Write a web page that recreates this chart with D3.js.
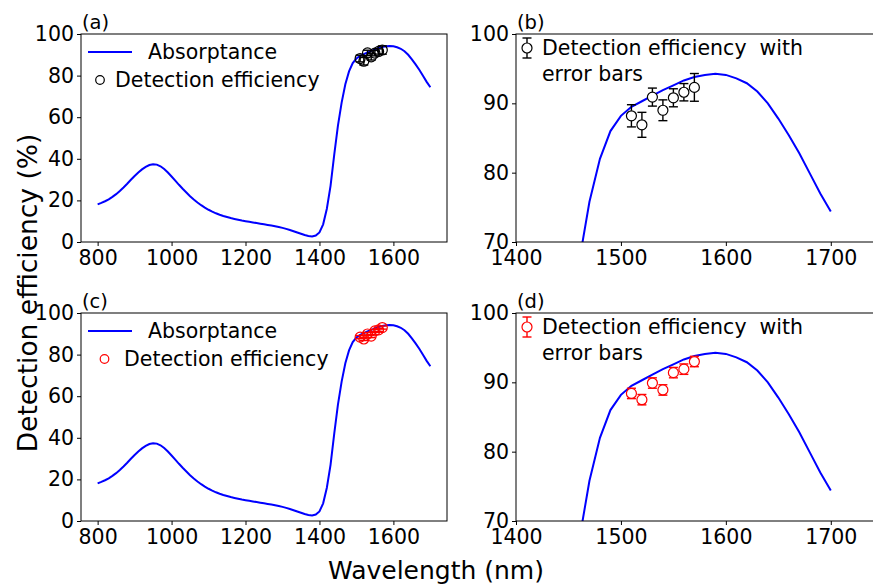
<!DOCTYPE html>
<html>
<head>
<meta charset="utf-8">
<script src="https://cdn.jsdelivr.net/npm/d3@7"></script>
<style>
  body { margin: 0; background: #fff; }
  text { font-family: "DejaVu Sans", sans-serif; fill: #000; }
</style>
</head>
<body>
<svg id="fig" width="873" height="585"></svg>
<script>
// absorptance, sampled every 10 nm from 800 to 1700
const wavelengths = d3.range(800, 1701, 10);
const absorptance = [
  18.1, 18.8, 19.6, 20.5, 21.7, 23.0, 24.5, 26.2, 28.0, 29.9,
  31.7, 33.4, 34.9, 36.1, 37.0, 37.4, 37.2, 36.4, 35.1, 33.4,
  31.5, 29.5, 27.5, 25.6, 23.8, 22.0, 20.4, 19.0, 17.7, 16.5,
  15.5, 14.6, 13.8, 13.1, 12.5, 12.0, 11.5, 11.1, 10.7, 10.3,
  10.0, 9.7, 9.4, 9.1, 8.8, 8.5, 8.2, 7.9, 7.6, 7.2,
  6.8, 6.3, 5.8, 5.2, 4.6, 4.0, 3.4, 2.9, 2.7, 3.1,
  4.6, 8.5, 16, 27, 42, 56, 67, 75.8, 82.0, 86.0,
  88.2, 89.5, 90.3, 91.1, 91.9, 92.6, 93.3, 93.8, 94.1, 94.25,
  94.1, 93.6, 92.9, 91.7, 90.0, 87.8, 85.4, 82.8, 79.9, 77.0,
  74.4
];

// measured detection efficiency
const deWavelengths = [1510, 1520, 1530, 1540, 1550, 1560, 1570];
const deTop = [88.2, 86.9, 90.9, 89.0, 90.8, 91.6, 92.3];
const deTopErr = [1.6, 1.8, 1.3, 1.5, 1.3, 1.25, 2.0];
const deBottom = [88.4, 87.5, 89.9, 88.9, 91.4, 91.9, 93.0];
const deBottomErr = [0.75, 0.75, 0.75, 0.75, 0.75, 0.75, 0.75];

const ticksWide = [800, 1000, 1200, 1400, 1600];
const ticksZoom = [1400, 1500, 1600, 1700];
const yTicksFull = [0, 20, 40, 60, 80, 100];
const yTicksZoom = [70, 80, 90, 100];

const svg = d3.select("#fig");
const curve = wavelengths.map((w, i) => [w, absorptance[i]]);
const fs = "20.5px";

function panel(opt) {
  const x = d3.scaleLinear().domain(opt.xDomain).range(opt.xRange);
  const y = d3.scaleLinear().domain(opt.yDomain).range(opt.yRange);
  const g = svg.append("g");
  const clipId = "clip-" + opt.label;

  g.append("clipPath").attr("id", clipId)
    .append("rect")
    .attr("x", opt.xRange[0]).attr("y", opt.yRange[1])
    .attr("width", opt.xRange[1] - opt.xRange[0])
    .attr("height", opt.yRange[0] - opt.yRange[1]);

  const plot = g.append("g").attr("clip-path", `url(#${clipId})`);

  plot.append("path")
    .datum(curve)
    .attr("fill", "none")
    .attr("stroke", "#0000ff")
    .attr("stroke-width", 2)
    .attr("d", d3.line().x(d => x(d[0])).y(d => y(d[1])));

  const pts = deWavelengths.map((w, i) => ({ w: w, v: opt.values[i], e: opt.errs[i] }));

  // error bars
  const eb = plot.selectAll(".eb").data(pts).enter().append("g")
    .attr("stroke", opt.color).attr("stroke-width", 1.4);
  eb.append("line")
    .attr("x1", d => x(d.w)).attr("x2", d => x(d.w))
    .attr("y1", d => y(d.v - d.e)).attr("y2", d => y(d.v + d.e));
  eb.append("line")
    .attr("x1", d => x(d.w) - 4.5).attr("x2", d => x(d.w) + 4.5)
    .attr("y1", d => y(d.v + d.e)).attr("y2", d => y(d.v + d.e));
  eb.append("line")
    .attr("x1", d => x(d.w) - 4.5).attr("x2", d => x(d.w) + 4.5)
    .attr("y1", d => y(d.v - d.e)).attr("y2", d => y(d.v - d.e));

  plot.selectAll(".pt").data(pts).enter().append("circle")
    .attr("cx", d => x(d.w)).attr("cy", d => y(d.v))
    .attr("r", 5)
    .attr("fill", opt.fill)
    .attr("stroke", opt.color)
    .attr("stroke-width", 1.2);

  // axes
  const xAxis = d3.axisBottom(x).tickValues(opt.xTicks).tickSize(4).tickPadding(4).tickFormat(d3.format("d"));
  const yAxis = d3.axisLeft(y).tickValues(opt.yTicks).tickSize(4).tickPadding(3).tickFormat(d3.format("d"));

  const gx = g.append("g").attr("transform", `translate(0,${opt.yRange[0]})`).call(xAxis);
  const gy = g.append("g").attr("transform", `translate(${opt.xRange[0]},0)`).call(yAxis);
  [gx, gy].forEach(a => {
    a.select(".domain").remove();
    a.selectAll("line").attr("stroke", "#000").attr("stroke-width", 1);
    a.selectAll("text").style("font-size", fs).attr("fill", "#000");
  });
  gx.selectAll("text").attr("dy", "0.75em");

  g.append("rect")
    .attr("x", opt.xRange[0]).attr("y", opt.yRange[1])
    .attr("width", opt.xRange[1] - opt.xRange[0])
    .attr("height", opt.yRange[0] - opt.yRange[1])
    .attr("fill", "none").attr("stroke", "#000").attr("stroke-width", 1);

  g.append("text")
    .attr("x", opt.xRange[0] + 1).attr("y", opt.yRange[1] - 5)
    .style("font-size", "19.5px")
    .text(`(${opt.label})`);

  return { g: g, x: x, y: y };
}

function wideLegend(g, top, color, circleX, textX) {
  g.append("line")
    .attr("x1", 88).attr("x2", 132)
    .attr("y1", top + 18).attr("y2", top + 18)
    .attr("stroke", "#0000ff").attr("stroke-width", 2);
  g.append("text").attr("x", 148).attr("y", top + 18).attr("dy", "0.35em")
    .style("font-size", fs).text("Absorptance");
  g.append("circle").attr("cx", circleX).attr("cy", top + 46).attr("r", 4.3)
    .attr("fill", "none").attr("stroke", color).attr("stroke-width", 1.2);
  g.append("text").attr("x", textX).attr("y", top + 46).attr("dy", "0.35em")
    .style("font-size", fs).text("Detection efficiency");
}

function zoomLegend(g, top, color) {
  const cx = 527, cy = top + 14;
  const lg = g.append("g").attr("stroke", color).attr("stroke-width", 1.4);
  lg.append("line").attr("x1", cx).attr("x2", cx).attr("y1", cy - 10).attr("y2", cy + 10);
  lg.append("line").attr("x1", cx - 4.5).attr("x2", cx + 4.5).attr("y1", cy - 10).attr("y2", cy - 10);
  lg.append("line").attr("x1", cx - 4.5).attr("x2", cx + 4.5).attr("y1", cy + 10).attr("y2", cy + 10);
  g.append("circle").attr("cx", cx).attr("cy", cy).attr("r", 5)
    .attr("fill", "#fff").attr("stroke", color).attr("stroke-width", 1.2);
  g.append("text").attr("x", 542).attr("y", cy).attr("dy", "0.35em")
    .style("font-size", fs).style("white-space", "pre")
    .text("Detection efficiency  with");
  g.append("text").attr("x", 542).attr("y", cy + 26).attr("dy", "0.35em")
    .style("font-size", fs).text("error bars");
}

const a = panel({ label: "a", xDomain: [755, 1745], xRange: [81, 447], yDomain: [0, 100], yRange: [242, 34],
  xTicks: ticksWide, yTicks: yTicksFull, values: deTop, errs: deTopErr, color: "#000", fill: "none" });
wideLegend(a.g, 34, "#000", 100, 115);

const b = panel({ label: "b", xDomain: [1400, 1745], xRange: [516, 878], yDomain: [70, 100], yRange: [242, 34],
  xTicks: ticksZoom, yTicks: yTicksZoom, values: deTop, errs: deTopErr, color: "#000", fill: "#fff" });
zoomLegend(b.g, 34, "#000");

const c = panel({ label: "c", xDomain: [755, 1745], xRange: [81, 447], yDomain: [0, 100], yRange: [521, 313],
  xTicks: ticksWide, yTicks: yTicksFull, values: deBottom, errs: deBottomErr, color: "#ff0000", fill: "none" });
wideLegend(c.g, 313, "#ff0000", 104.5, 124);

const d = panel({ label: "d", xDomain: [1400, 1745], xRange: [516, 878], yDomain: [70, 100], yRange: [521, 313],
  xTicks: ticksZoom, yTicks: yTicksZoom, values: deBottom, errs: deBottomErr, color: "#ff0000", fill: "#fff" });
zoomLegend(d.g, 313, "#ff0000");

svg.append("text")
  .attr("x", 436).attr("y", 570).attr("dy", "0.35em")
  .attr("text-anchor", "middle")
  .style("font-size", "25px")
  .text("Wavelength (nm)");

svg.append("text")
  .attr("transform", "translate(28,293) rotate(-90)")
  .attr("dy", "0.35em")
  .attr("text-anchor", "middle")
  .style("font-size", "26.5px")
  .text("Detection efficiency (%)");
</script>
</body>
</html>
